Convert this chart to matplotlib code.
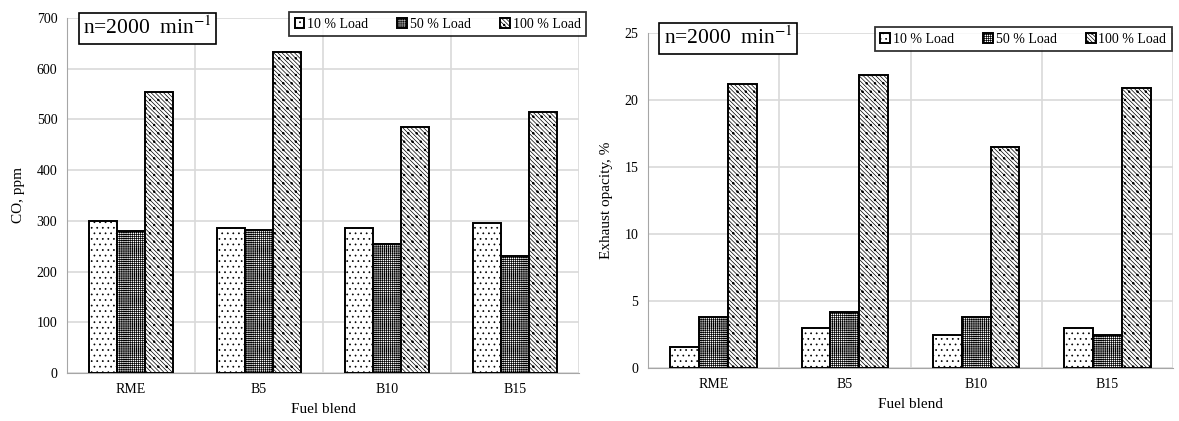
import matplotlib.pyplot as plt
import numpy as np

plt.rcParams['font.family'] = ['Liberation Serif', 'DejaVu Serif']
plt.rcParams['mathtext.fontset'] = 'stix'
plt.rcParams['hatch.linewidth'] = 0.5

blends = ['RME', 'B5', 'B10', 'B15']
loads = ['10 % Load', '50 % Load', '100 % Load']

co_10 = [299, 285, 285, 295]
co_50 = [280, 282, 254, 230]
co_100 = [554, 632, 486, 515]

op_10 = [1.6, 3.0, 2.5, 3.0]
op_50 = [3.8, 4.2, 3.8, 2.5]
op_100 = [21.2, 21.9, 16.5, 20.9]

hatches = ['...', '++++++++', '\\\\\\\\\\\\\\\\..']
GRID = '#d9d9d9'


def draw(ax, series, ylim, step, ylabel, leg_anchor):
    x = np.arange(len(blends))
    w = 0.22
    for i, vals in enumerate(series):
        ax.bar(x + (i - 1) * w, vals, w, color='white', edgecolor='black',
               hatch=hatches[i], linewidth=1.4, zorder=3, label=loads[i])
    ax.set_xlim(-0.5, len(blends) - 0.5)
    ax.set_ylim(*ylim)
    ax.set_yticks(np.arange(ylim[0], ylim[1] + step / 2, step))
    ax.set_xticks(x)
    ax.set_xticklabels(blends)
    ax.set_xticks(np.arange(-0.5, len(blends), 1), minor=True)
    ax.grid(True, which='major', axis='y', color=GRID, linewidth=1.2, zorder=0)
    ax.grid(True, which='minor', axis='x', color=GRID, linewidth=1.2, zorder=0)
    ax.tick_params(which='both', length=0, labelsize=10, pad=7)
    for s in ['top', 'right']:
        ax.spines[s].set_visible(False)
    for s in ['left', 'bottom']:
        ax.spines[s].set_color('#a6a6a6')
    ax.set_ylabel(ylabel, fontsize=11, labelpad=8)
    ax.set_xlabel('Fuel blend', fontsize=11, labelpad=5)
    leg = ax.legend(ncol=3, loc='upper right', bbox_to_anchor=leg_anchor,
                    borderaxespad=0, fontsize=10, frameon=True, fancybox=False,
                    edgecolor='black', handlelength=0.7, handleheight=0.7,
                    handletextpad=0.2, columnspacing=2.1, borderpad=0.4)
    leg.get_frame().set_linewidth(1.3)
    leg.set_zorder(5)


fig = plt.figure(figsize=(11.79, 4.21), dpi=100)
ax1 = fig.add_axes([67 / 1179, 1 - 373 / 421, 512 / 1179, 355 / 421])
ax2 = fig.add_axes([648 / 1179, 1 - 368 / 421, 525 / 1179, 335 / 421])

draw(ax1, [co_10, co_50, co_100], (0, 700), 100, 'CO, ppm', (1.014, 1.017))
draw(ax2, [op_10, op_50, op_100], (0, 25), 5, 'Exhaust opacity, %', (0.998, 1.018))

for ax, pos in [(ax1, (0.031, 1.003)), (ax2, (0.030, 1.018))]:
    ax.text(pos[0], pos[1], 'n=2000  min$^{-1}$', transform=ax.transAxes,
            fontsize=15.5, va='top', ha='left', zorder=6,
            bbox=dict(boxstyle='square,pad=0.2', facecolor='white',
                      edgecolor='black', linewidth=1.2))

fig.savefig('out.png', dpi=100)
